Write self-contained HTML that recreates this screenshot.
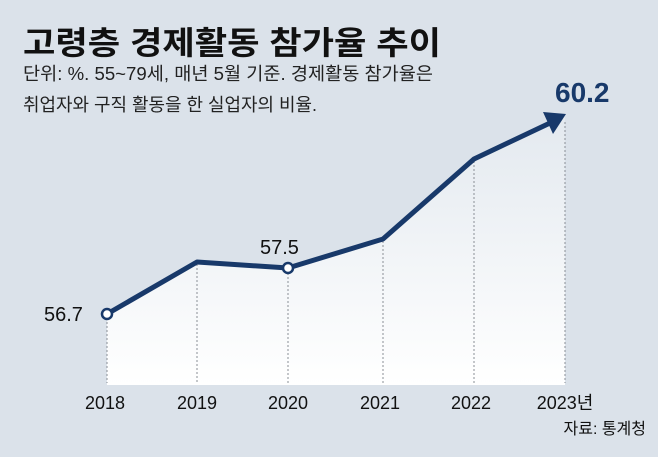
<!DOCTYPE html>
<html><head><meta charset="utf-8"><style>
body{margin:0;background:#dbe2ea;}
svg{display:block}
text{font-family:"Liberation Sans","Noto Sans CJK KR",sans-serif;}
</style></head><body>
<svg width="658" height="457" viewBox="0 0 658 457" xmlns="http://www.w3.org/2000/svg">
<defs>
<linearGradient id="g" x1="0" y1="0" x2="0" y2="1">
<stop offset="0" stop-color="#e3e9ef"/>
<stop offset="1" stop-color="#ffffff"/>
</linearGradient>
</defs>
<rect width="658" height="457" fill="#dbe2ea"/>
<polygon points="107,314 197,262 288,268 383,239 474,159 565,115 565,385 107,385" fill="url(#g)"/>
<g stroke="#8a8f96" stroke-width="1" stroke-dasharray="2,2">
<line x1="107" y1="318" x2="107" y2="383"/>
<line x1="197" y1="264" x2="197" y2="383"/>
<line x1="288" y1="273" x2="288" y2="383"/>
<line x1="383" y1="241" x2="383" y2="383"/>
<line x1="474" y1="161" x2="474" y2="383"/>
<line x1="565" y1="122" x2="565" y2="383"/>
</g>
<polyline points="107,314 197,262 288,268 383,239 474,159 550,123" fill="none" stroke="#18396a" stroke-width="5" stroke-linejoin="round"/>
<polygon points="566,114 543,112 553,134" fill="#18396a"/>
<circle cx="107" cy="314" r="5" fill="#fff" stroke="#18396a" stroke-width="2.5"/>
<circle cx="288" cy="268" r="5" fill="#fff" stroke="#18396a" stroke-width="2.5"/>
<text x="23" y="54" font-size="32" font-weight="bold" fill="#111" textLength="418" lengthAdjust="spacingAndGlyphs">고령층 경제활동 참가율 추이</text>
<text x="23" y="80" font-size="18" fill="#222" textLength="410" lengthAdjust="spacingAndGlyphs">단위: %. 55~79세, 매년 5월 기준. 경제활동 참가율은</text>
<text x="23" y="111" font-size="18" fill="#222" textLength="294" lengthAdjust="spacingAndGlyphs">취업자와 구직 활동을 한 실업자의 비율.</text>
<text x="555" y="102" font-size="28" font-weight="bold" fill="#18396a">60.2</text>
<text x="44" y="321" font-size="20" fill="#111">56.7</text>
<text x="260" y="254" font-size="20" fill="#111">57.5</text>
<g font-size="18" fill="#111" text-anchor="middle">
<text x="105" y="409">2018</text>
<text x="197" y="409">2019</text>
<text x="288" y="409">2020</text>
<text x="380" y="409">2021</text>
<text x="471" y="409">2022</text>
<text x="565" y="409">2023년</text>
</g>
<text x="646" y="434" font-size="16" fill="#111" text-anchor="end">자료: 통계청</text>
</svg>
</body></html>
